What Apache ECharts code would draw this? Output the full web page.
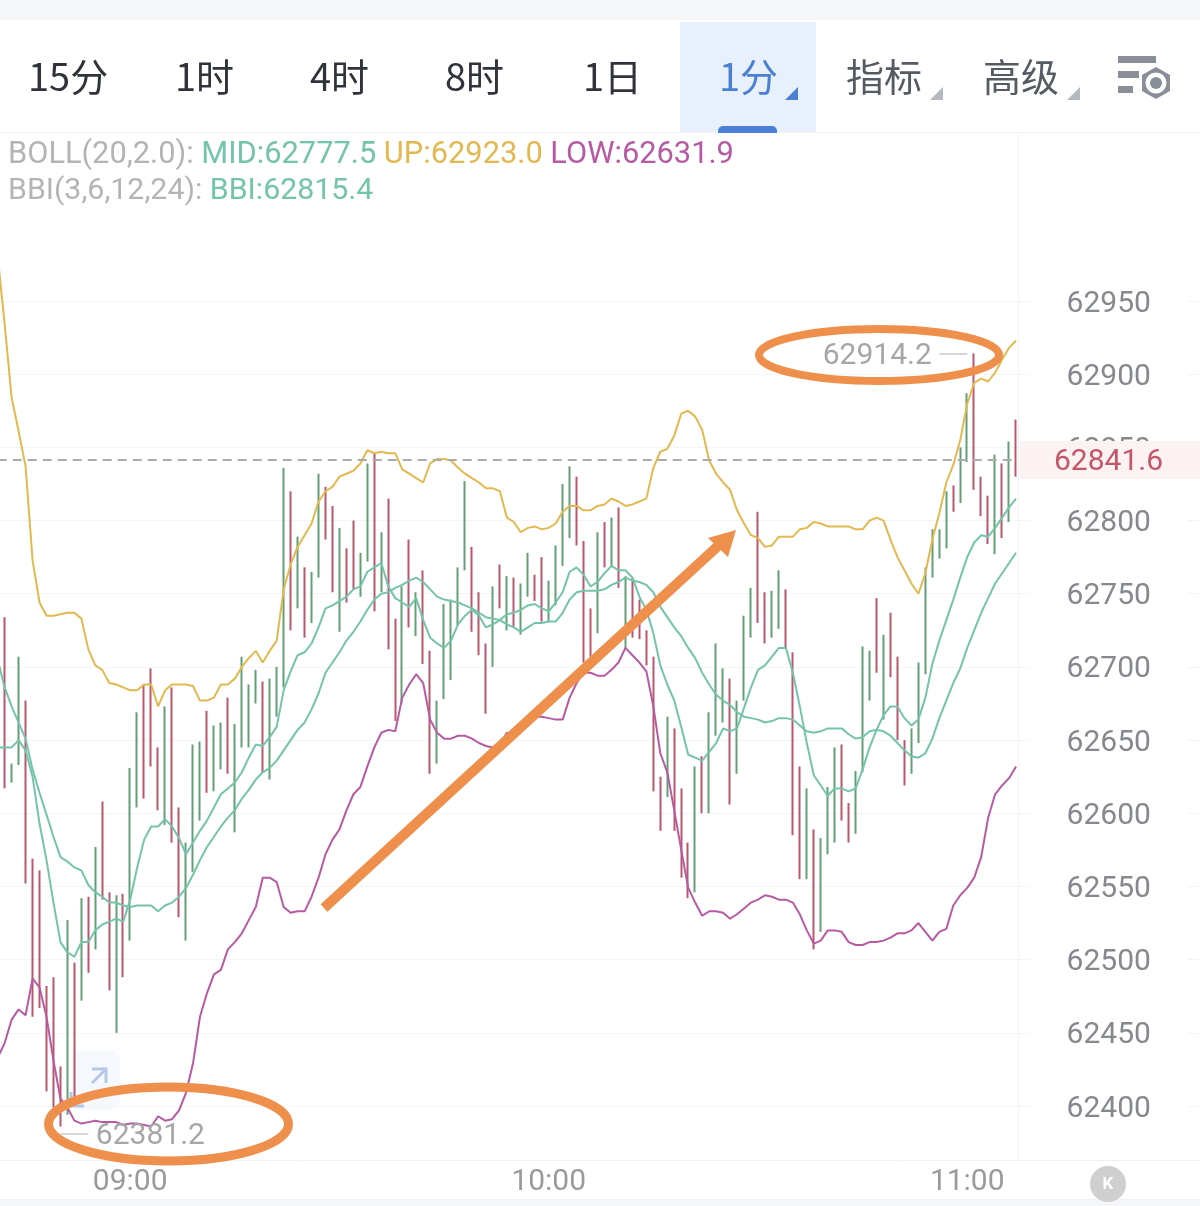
<!DOCTYPE html>
<html><head><meta charset="utf-8">
<style>html,body{margin:0;padding:0;background:#fff}#c{width:1200px;height:1206px}</style>
<script src="https://cdn.jsdelivr.net/npm/echarts@6/dist/echarts.min.js"></script>
</head><body><div id="c"></div>
<script>
// ---------- data ----------
const tabs=['15分','1时','4时','8时','1日','1分','指标','高级'];
const yMin=62350, yMax=62950, yStep=50;
const lastPrice=62841.6, maxPrice=62914.2, minPrice=62381.2;
const bollMid=62777.5, bollUp=62923.0, bollLow=62631.9, bbiNow=62815.4;
const highs=[62734,62634,62707,62677,62569,62561,62482,62488,62427,62527,
62498,62542,62543,62577,62608,62546,62544,62545,62631,62669,
62688,62699,62645,62673,62686,62604,62580,62647,62649,62670,
62660,62662,62679,62661,62707,62688,62698,62690,62692,62700,
62836,62820,62789,62768,62765,62832,62823,62810,62795,62781,
62800,62778,62839,62846,62792,62815,62733,62755,62787,62751,
62766,62711,62677,62743,62746,62768,62827,62782,62751,62716,
62755,62770,62762,62761,62757,62778,62763,62775,62759,62783,
62825,62837,62830,62786,62740,62792,62799,62802,62809,62762,
62761,62746,62725,62707,62625,62666,62658,62617,62580,62632,
62639,62669,62716,62699,62692,62677,62735,62754,62806,62751,
62752,62766,62753,62710,62632,62617,62589,62583,62618,62645,
62647,62607,62629,62714,62711,62747,62722,62737,62707,62650,
62658,62703,62768,62794,62794,62820,62824,62850,62887,62914.2,
62830,62817,62845,62839,62854,62869];
const lows=[62617,62621,62633,62552,62461,62467,62410,62399,62386,62394,
62404,62472,62491,62507,62541,62479,62450,62488,62513,62604,
62610,62632,62602,62592,62580,62529,62513,62560,62595,62614,
62615,62630,62627,62587,62645,62645,62675,62628,62623,62666,
62686,62725,62740,62720,62730,62761,62787,62751,62724,62744,
62753,62748,62772,62738,62751,62712,62663,62675,62727,62721,
62702,62627,62634,62678,62691,62728,62766,62724,62708,62668,
62700,62740,62725,62727,62722,62748,62745,62731,62731,62742,
62769,62788,62783,62703,62707,62723,62768,62769,62754,62713,
62720,62719,62701,62615,62588,62611,62588,62556,62542,62546,
62600,62600,62653,62662,62606,62627,62677,62720,62730,62716,
62720,62726,62713,62585,62555,62555,62507,62519,62572,62580,
62595,62580,62586,62628,62677,62696,62664,62693,62650,62619,
62627,62648,62695,62761,62774,62781,62806,62812,62840,62821,
62803,62784,62777,62788,62799,62830];
const dirs='RGGRRRRRRG RGRGRRGRGG RRRGRRGGGR GGRGGGGRGG GRGRGGRRGR RGGRGRRGRG RRGGGGGRRR GRGRGGRRGG GGRRRGRGRG RRRRRGRRRG RGGGRGGGRR GGRRRGRGGG RRGGGRGRRR GGGGGGRGGR RRGRGR'.replace(/ /g,'').split('');
// the first entry of each line sits one bar before the first bar, just off the left edge
const upper=[62981,62934,62884,62861,62837,62773,62744,62735,62735,62736,62737,
62737,62733,62712,62701,62698,62689,62688,62686,62684,62684,
62688,62688,62673,62684,62688,62688,62688,62687,62677,62677,
62679,62688,62688,62692,62700,62706,62711,62703,62711,62718,
62753,62770,62782,62790,62798,62813,62820,62823,62830,62832,
62834,62839,62848,62846,62847,62846,62846,62835,62832,62829,
62826,62839,62842,62842,62841,62836,62832,62829,62826,62822,
62822,62820,62802,62799,62792,62795,62796,62794,62795,62798,
62806,62810,62810,62807,62807,62810,62811,62815,62813,62810,
62811,62813,62815,62836,62847,62849,62858,62873,62875,62871,
62862,62841,62832,62826,62821,62807,62798,62790,62788,62782,
62783,62789,62789,62789,62794,62795,62799,62798,62796,62796,
62796,62796,62794,62794,62800,62802,62800,62787,62775,62766,
62757,62750,62764,62787,62805,62826,62838,62855,62880,62894,
62897,62895,62901,62910,62918,62923];
const middle=[62705,62686,62673,62662,62651,62630,62614,62599,62584,62570,62567,
62563,62561,62551,62546,62543,62539,62539,62537,62536,62537,
62537,62537,62533,62537,62539,62543,62549,62558,62568,62577,
62584,62591,62597,62602,62610,62616,62623,62628,62631,62636,
62643,62650,62657,62662,62671,62682,62696,62703,62710,62718,
62724,62731,62739,62746,62750,62751,62754,62756,62759,62761,
62758,62753,62748,62746,62745,62744,62742,62740,62737,62734,
62733,62732,62729,62727,62724,62727,62730,62730,62731,62731,
62737,62746,62751,62752,62752,62752,62753,62756,62758,62761,
62759,62758,62756,62751,62741,62734,62727,62721,62713,62706,
62696,62688,62681,62677,62674,62669,62666,62665,62664,62662,
62663,62665,62665,62664,62660,62656,62655,62656,62658,62658,
62658,62654,62651,62652,62656,62657,62656,62653,62648,62643,
62639,62638,62641,62651,62665,62677,62689,62699,62713,62725,
62737,62747,62757,62764,62771,62778];
const lower=[62433,62443,62459,62466,62462,62487,62481,62461,62431,62405,62399,
62390,62388,62389,62390,62389,62389,62389,62387,62388,62388,
62387,62386,62393,62390,62391,62397,62409,62429,62461,62477,
62490,62493,62507,62512,62518,62527,62536,62556,62556,62553,
62536,62532,62533,62533,62543,62556,62572,62582,62589,62602,
62613,62618,62632,62645,62655,62657,62656,62679,62688,62695,
62689,62664,62655,62651,62651,62653,62653,62651,62648,62646,
62645,62647,62655,62653,62657,62662,62666,62666,62665,62664,
62664,62679,62689,62696,62696,62694,62694,62698,62703,62713,
62708,62703,62697,62673,62641,62628,62602,62575,62549,62539,
62530,62533,62533,62532,62528,62531,62535,62539,62541,62544,
62543,62541,62541,62539,62531,62520,62511,62513,62520,62520,
62519,62512,62510,62510,62512,62512,62513,62515,62518,62518,
62520,62525,62519,62513,62519,62521,62537,62544,62549,62556,
62570,62597,62613,62619,62624,62632];
const bbi=[62645,62645,62645,62650,62643,62625,62593,62568,62539,62512,62505,
62502,62512,62512,62520,62524,62526,62528,62526,62541,62563,
62582,62591,62591,62596,62591,62583,62572,62580,62588,62595,
62604,62613,62617,62621,62628,62638,62647,62646,62652,62659,
62684,62697,62708,62710,62716,62727,62740,62742,62745,62748,
62753,62755,62765,62768,62771,62755,62747,62744,62741,62747,
62732,62720,62716,62713,62718,62729,62735,62739,62735,62727,
62729,62732,62736,62737,62739,62742,62743,62740,62738,62744,
62751,62765,62768,62763,62755,62758,62764,62769,62766,62766,
62761,62748,62739,62723,62701,62688,62677,62659,62640,62638,
62636,62642,62648,62658,62656,62658,62672,62686,62698,62701,
62707,62713,62713,62696,62673,62648,62626,62619,62612,62617,
62617,62615,62617,62630,62645,62657,62667,62673,62673,62665,
62660,62664,62679,62702,62718,62732,62746,62761,62775,62785,
62790,62789,62795,62802,62809,62815];

// ---------- derived ----------
const BARS_TOTAL=173;               // one bar before the data, the data, then empty room under the price scale
const categories=[];
for(let m=0;m<BARS_TOTAL;m++){const t=8*60+41+m;categories.push(String(Math.floor(t/60)).padStart(2,'0')+':'+String(t%60).padStart(2,'0'));}
const candles=[['-','-','-','-']].concat(highs.map((h,i)=>dirs[i]==='G'?[lows[i],h,lows[i],h]:[h,lows[i],lows[i],h]));

const FONT='Roboto,"Noto Sans",sans-serif', CJK='"Noto Sans CJK SC",Roboto,sans-serif';
const GREEN='#639f74', RED='#b9576b', TEAL='#74c3ab', GOLD='#e3b84f', PURPLE='#b65ba3', ORANGE='#ee8f4c';
const lineSeries=(name,data,color,w)=>({name,type:'line',data,symbol:'none',clip:false,silent:true,z:4,smooth:false,lineStyle:{color,width:w},connectNulls:false});

// ---------- page furniture ----------
const tabX=[28,175,310,445,583,719,846,983];
const gfx=[];
gfx.push({type:'rect',z:0,shape:{x:0,y:0,width:1200,height:20},style:{fill:'#f5f6f8'}});
gfx.push({type:'rect',z:0,shape:{x:0,y:1200,width:1200,height:6},style:{fill:'#f5f6f8'}});
gfx.push({type:'rect',z:0,shape:{x:680,y:22,width:136,height:110},style:{fill:'#e7f0fb'}});
gfx.push({type:'rect',z:1,shape:{x:718,y:126,width:59,height:7,r:[5,5,0,0]},style:{fill:'#4a7fd4'}});
gfx.push({type:'line',z:0,shape:{x1:0,y1:132.5,x2:1200,y2:132.5},style:{stroke:'#f2f3f5',lineWidth:1}});
gfx.push({type:'line',z:0,shape:{x1:1018.5,y1:132,x2:1018.5,y2:1160},style:{stroke:'#f2f3f5',lineWidth:1}});
gfx.push({type:'line',z:0,shape:{x1:0,y1:1199.5,x2:1200,y2:1199.5},style:{stroke:'#f0f1f3',lineWidth:1}});
tabs.forEach((t,i)=>gfx.push({type:'text',z:5,style:{x:tabX[i],y:77,text:t,font:'38px '+CJK,fill:i===5?'#4a7fd4':(i>5?'#555a63':'#30343a'),verticalAlign:'middle',textAlign:'left'}}));
[[798,87,'#4a7fd4'],[943,87,'#b5b8bd'],[1080,87,'#b5b8bd']].forEach(p=>gfx.push({type:'polygon',z:5,shape:{points:[[p[0],p[1]],[p[0],p[1]+13],[p[0]-13,p[1]+13]]},style:{fill:p[2]}}));
const ICON='#8a8e99';
[[1118,56,38],[1118,71,21],[1118,86,15]].forEach(r=>gfx.push({type:'rect',z:5,shape:{x:r[0],y:r[1],width:r[2],height:7},style:{fill:ICON}}));
gfx.push({type:'polygon',z:5,shape:{points:[[1156,67],[1170,75],[1170,91],[1156,99],[1142,91],[1142,75]]},style:{fill:ICON}});
gfx.push({type:'circle',z:6,shape:{cx:1156,cy:83,r:10.5},style:{fill:'#fff'}});
gfx.push({type:'circle',z:6,shape:{cx:1156,cy:83,r:6},style:{fill:ICON}});
const LF1='30.8px '+FONT, LF2='30.3px '+FONT;
gfx.push({type:'text',z:5,style:{x:8,y:155,verticalAlign:'middle',text:'{g|BOLL(20,2.0): }{t|MID:'+bollMid.toFixed(1)+'} {y|UP:'+bollUp.toFixed(1)+'} {p|LOW:'+bollLow.toFixed(1)+'}',
  font:LF1,rich:{g:{fill:'#b4b4b6',font:LF1},t:{fill:TEAL,font:LF1},y:{fill:GOLD,font:LF1},p:{fill:PURPLE,font:LF1}}}});
gfx.push({type:'text',z:5,style:{x:8,y:191,verticalAlign:'middle',text:'{g|BBI(3,6,12,24): }{t|BBI:'+bbiNow.toFixed(1)+'}',
  font:LF2,rich:{g:{fill:'#b4b4b6',font:LF2},t:{fill:TEAL,font:LF2}}}});
// last price tag, over the 62850 tick
gfx.push({type:'rect',z:20,shape:{x:1020,y:441,width:180,height:38},style:{fill:'#fdf2f2'}});
gfx.push({type:'text',z:21,style:{x:1054,y:462,text:lastPrice.toFixed(1),font:'30px '+FONT,fill:'#c4566a',verticalAlign:'middle'}});
// K button
gfx.push({type:'circle',z:5,shape:{cx:1108,cy:1184,r:18},style:{fill:'#cfcfcf'}});
gfx.push({type:'text',z:6,style:{x:1108,y:1185,text:'K',font:'bold 17px '+FONT,fill:'#fff',textAlign:'center',verticalAlign:'middle'}});
// faint jump button, below the series
gfx.push({type:'rect',z:0,shape:{x:72,y:1050,width:48,height:60,r:10},style:{fill:'#f5f8fd'}});
gfx.push({type:'polyline',z:1,shape:{points:[[92,1069],[106,1069],[106,1083]]},style:{stroke:'#b5c8e8',lineWidth:3,fill:null}});
gfx.push({type:'line',z:1,shape:{x1:106,y1:1069,x2:92,y2:1083},style:{stroke:'#b5c8e8',lineWidth:3}});
gfx.push({type:'polyline',z:1,shape:{points:[[71,1092],[71,1106],[84,1106]]},style:{stroke:'#b5c8e8',lineWidth:3,fill:null}});
// hand-drawn orange marks
gfx.push({type:'ellipse',z:15,shape:{cx:879,cy:355,rx:120,ry:26},style:{stroke:ORANGE,lineWidth:8,fill:null}});
gfx.push({type:'ellipse',z:15,shape:{cx:168.5,cy:1124,rx:120,ry:37},style:{stroke:ORANGE,lineWidth:9,fill:null}});
gfx.push({type:'line',z:15,shape:{x1:324,y1:908,x2:718,y2:546},style:{stroke:ORANGE,lineWidth:10}});
gfx.push({type:'polygon',z:15,shape:{points:[[736,530],[708,538],[728,557]]},style:{fill:ORANGE}});

const chart=echarts.init(document.getElementById('c'),null,{renderer:'canvas',width:1200,height:1206});
chart.setOption({
  animation:false,backgroundColor:'#fff',
  graphic:{elements:gfx},
  grid:{left:-5.8,top:301,width:1206.7,height:878.2,containLabel:false,outerBoundsMode:'none'},
  xAxis:{type:'category',data:categories,boundaryGap:true,offset:-19.2,
    axisLine:{lineStyle:{color:'#f0f1f3',width:1}},axisTick:{show:false},splitLine:{show:false},
    axisLabel:{interval:(i,v)=>v.endsWith(':00'),hideOverlap:false,margin:7,color:'#9a9a9c',fontSize:30,fontFamily:FONT}},
  yAxis:{type:'value',position:'right',min:yMin,max:yMax,interval:yStep,scale:true,
    axisLine:{show:false},axisTick:{show:false},
    splitLine:{showMinLine:false,lineStyle:{color:'#f3f4f6',width:1}},
    axisLabel:{inside:true,margin:13,showMinLabel:false,backgroundColor:'#fff',padding:[6,37,0,37],hideOverlap:false,formatter:v=>'{a|'+v+'}',
      rich:{a:{color:'#85888c',fontSize:30,fontFamily:FONT}}}},
  series:[
    {name:'K',type:'candlestick',data:candles,barWidth:1,barMinWidth:1,barMaxWidth:3,clip:false,silent:true,z:3,
      itemStyle:{color:GREEN,color0:RED,borderColor:GREEN,borderColor0:RED,borderWidth:2},
      markLine:{silent:true,symbol:'none',animation:false,label:{show:false},
        data:[
          [{xAxis:0,yAxis:lastPrice,lineStyle:{color:'#ababab',width:2,type:[9,6]}},{xAxis:146,yAxis:lastPrice}],
          [{xAxis:135,yAxis:maxPrice,lineStyle:{color:'#c8c8c8',width:1.5,type:'solid'}},{xAxis:139,yAxis:maxPrice}],
          [{xAxis:9,yAxis:minPrice,lineStyle:{color:'#c8c8c8',width:1.5,type:'solid'}},{xAxis:13,yAxis:minPrice}]
        ]},
      markPoint:{silent:true,symbol:'circle',symbolSize:1,animation:false,itemStyle:{color:'rgba(0,0,0,0)'},
        label:{show:true,color:'#a6a6a8',fontSize:30,fontFamily:FONT,offset:[0,3],formatter:p=>p.value.toFixed(1)},
        data:[
          {coord:[135,maxPrice],value:maxPrice,label:{position:'left',distance:7}},
          {coord:[13,minPrice],value:minPrice,label:{position:'right',distance:7}}
        ]}},
    lineSeries('UP',upper,GOLD,2),
    lineSeries('MID',middle,TEAL,2),
    lineSeries('LOW',lower,PURPLE,2),
    lineSeries('BBI',bbi,TEAL,2)
  ]
});
</script></body></html>
